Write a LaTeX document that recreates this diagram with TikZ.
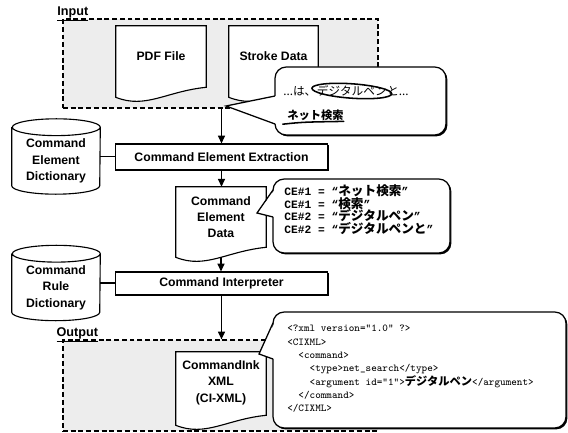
\documentclass[tikz,border=0pt]{standalone}
\usepackage{fontspec}
\setmainfont{Liberation Sans}
\newfontfamily\jp{Noto Sans CJK JP}
\newfontfamily\cefont{Liberation Mono}
\usetikzlibrary{arrows.meta,shadows,positioning}

\pgfdeclarelayer{bg}
\pgfdeclarelayer{paper}
\pgfsetlayers{bg,paper,main}

\newcommand{\tightlines}{\setlength{\lineskiplimit}{-10pt}}

\tikzset{
  areabox/.style={draw, dash pattern=on 3.5pt off 2pt, line width=0.9pt, fill=black!7, inner sep=0pt},
  arealabel/.style={inner sep=0pt, anchor=south west, font=\bfseries\fontsize{9}{10}\selectfont},
  labeltext/.style={inner sep=0pt, align=center, font=\bfseries\fontsize{8.7}{11.7}\selectfont},
  docline/.style={draw, fill=white, line width=0.8pt},
  dbline/.style={draw, line width=0.8pt},
  stepbox/.style={labeltext, draw, fill=white, line width=0.8pt,
    drop shadow={shadow xshift=1pt, shadow yshift=-1pt, fill=black, opacity=1}},
  flow/.style={line width=0.8pt, -{Triangle[length=5.5pt,width=5pt]}},
  bubble/.style={draw, fill=white, line width=0.9pt, rounded corners=8pt,
    drop shadow={shadow xshift=1pt, shadow yshift=-1pt, fill=black, opacity=1}},
  bubbleline/.style={line width=0.9pt},
  hand/.style={inner sep=0pt, font=\jp\fontsize{8.3}{9}\selectfont},
  ink/.style={line width=1.1pt, line cap=round},
  cecode/.style={inner sep=0pt, align=left, font=\cefont\bfseries\fontsize{8}{9.2}\selectfont\tightlines},
  xmlcode/.style={inner sep=0pt, align=left, font=\ttfamily\fontsize{7.5}{9.5}\selectfont},
}

% document sheet with wavy bottom, drawn under the node text
\newcommand{\docshape}[1]{%
  \begin{pgfonlayer}{paper}
  \draw[docline] (#1.south west) -- (#1.north west) -- (#1.north east) -- ([yshift=0.25cm]#1.south east)
    .. controls ([xshift=-1cm,yshift=0.15cm]#1.south east) and ([xshift=0.75cm,yshift=-0.3cm]#1.south west) .. (#1.south west) -- cycle;
  \end{pgfonlayer}}
% dictionary drum
\newcommand{\dbshape}[1]{%
  \draw[dbline] (#1.north west) -- (#1.south west)
    arc[start angle=180, end angle=360, x radius=1.1cm, y radius=0.21cm] -- (#1.north east)
    arc[start angle=0, end angle=360, x radius=1.1cm, y radius=0.21cm];}
\newcommand{\jpb}[2][9]{{\jp\bfseries\fontsize{#1}{9.2}\selectfont #2}}

\begin{document}
\begin{tikzpicture}[x=0.025cm, y=-0.025cm]
\useasboundingbox (0,0) rectangle (568,433);

% input and output areas
\begin{pgfonlayer}{bg}
\node[areabox, minimum width=7.875cm, minimum height=2.225cm] (inbox) at (220.5,63.5) {};
\node[areabox, minimum width=7.875cm, minimum height=2.275cm] (outbox) at (220.5,385.5) {};
\end{pgfonlayer}
\node[arealabel] (inlbl) at ([xshift=-0.13cm,yshift=-2pt]inbox.north west) {\underline{Input}};
\node[arealabel] (outlbl) at ([xshift=-0.15cm,yshift=-2pt]outbox.north west) {\underline{Output}};

% documents
\node[labeltext, text depth=8.2pt, minimum width=2.25cm, minimum height=1.775cm] (pdf) at (161,61.5) {PDF File};
\docshape{pdf}
\node[labeltext, text depth=8.2pt, minimum width=2.225cm, minimum height=1.775cm] (stroke) at (273.5,61.5) {Stroke Data};
\docshape{stroke}
\node[labeltext, text depth=7pt, minimum width=2.25cm, minimum height=1.75cm] (cedata) at (221,222) {Command\\Element\\Data};
\docshape{cedata}
\node[labeltext, text depth=10.4pt, minimum width=2.25cm, minimum height=1.825cm] (cixml) at (221,388.5) {CommandInk\\XML\\(CI-XML)};
\docshape{cixml}

% dictionaries
\node[labeltext, text height=36.5pt, minimum width=2.2cm, minimum height=1.45cm] (cedict) at (56,156.5) {Command\\Element\\Dictionary};
\dbshape{cedict}
\node[labeltext, text height=36.5pt, minimum width=2.2cm, minimum height=1.45cm] (crdict) at (56,283) {Command\\Rule\\Dictionary};
\dbshape{crdict}

% processing steps
\node[stepbox, minimum width=5.3cm, minimum height=0.65cm] (extract) at (221.5,157) {Command Element Extraction};
\node[stepbox, minimum width=5.3cm, minimum height=0.575cm] (interp) at (221.5,283.5) {Command Interpreter};

\draw[dbline] (cedict.east) -- (cedict.east -| extract.west);
\draw[dbline] (crdict.east) -- (crdict.east -| interp.west);
\draw[flow] (inbox.south -| extract.north) -- (extract.north);
\draw[flow] (extract.south) -- (extract.south |- cedata.north);
\draw[flow] (cedata.south) -- (cedata.south |- interp.north);
\draw[flow] (interp.south) -- (interp.south |- outbox.north);

% callout on the strokes
\coordinate (strokeTip) at (226,106);
\draw[bubble] (275,67) rectangle (446,135);
\fill[white] (276.5,96) -- (strokeTip) -- (276.5,124) -- cycle;
\draw[bubbleline] (275,96) -- (strokeTip) -- (275,124);
\node[hand, anchor=west] (before) at (283,91) {...は、};
\node[hand, right=0pt of before] (pen) {デジタルペン};
\node[hand, right=0pt of pen] (after) {と...};
\draw[ink, rotate around={-4:(pen.center)}] (pen.center) ellipse [x radius=1cm, y radius=0.18cm];
\node[inner sep=0pt, font=\jp\bfseries\fontsize{8}{9}\selectfont, anchor=west] (netword) at (287,115) {ネット検索};
\draw[ink] ([xshift=-3pt,yshift=-2.5pt]netword.south west) .. controls ([xshift=0.4cm,yshift=-1pt]netword.south west) .. ([yshift=-0.5pt]netword.south east);

% callout on the command elements
\coordinate (dataTip) at (257,213);
\draw[bubble] (273,179) rectangle (450,253);
\fill[white] (274.5,190) -- (dataTip) -- (274.5,217) -- cycle;
\draw[bubbleline] (273,190) -- (dataTip) -- (273,217);
\node[cecode, anchor=north west] (celist) at (284,184)
  {CE\#1 = “\jpb{ネット検索}”\\CE\#1 = “\jpb{検索}”\\CE\#2 = “\jpb{デジタルペン}”\\CE\#2 = “\jpb{デジタルペンと}”};

% callout on the XML
\coordinate (xmlTip) at (259,354);
\draw[bubble] (273,312) rectangle (566,428);
\fill[white] (274.5,323) -- (xmlTip) -- (274.5,359) -- cycle;
\draw[bubbleline] (273,323) -- (xmlTip) -- (273,359);
\node[xmlcode, anchor=west] (xmltext) at (287,369)
  {<?xml version="1.0" ?>\\<CIXML>\\\phantom{xx}<command>\\\phantom{xxxx}<type>net\_search</type>\\\phantom{xxxx}<argument id="1">\jpb[8]{デジタルペン}</argument>\\\phantom{xx}</command>\\</CIXML>};
\end{tikzpicture}
\end{document}
